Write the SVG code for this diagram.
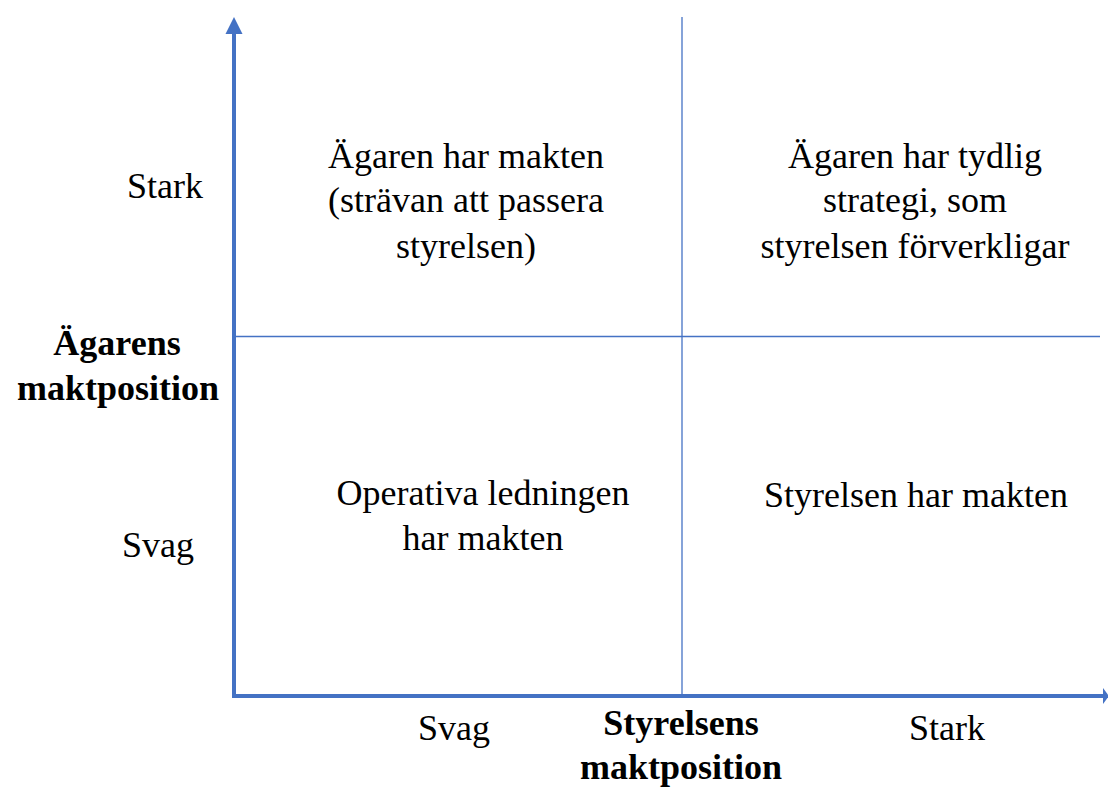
<svg xmlns="http://www.w3.org/2000/svg" width="1108" height="790" viewBox="0 0 1108 790">
<defs>
<style>
.t{font-family:"Liberation Serif","Times New Roman",serif;font-size:36px;fill:#000;}
.c{text-anchor:middle;}
.b{font-weight:bold;}
.ax{stroke:#4472C4;stroke-width:4;fill:none;}
.dv{stroke:#4472C4;stroke-width:1.3;fill:none;}
</style>
</defs>
<rect width="1108" height="790" fill="#fff"/>
<g id="connectors">
<line class="dv" x1="682" y1="17" x2="682" y2="696"/>
<line class="dv" x1="233" y1="336.5" x2="1100" y2="336.5"/>
<polyline class="ax" points="234,33 234,696 1103,696"/>
<polygon points="234,17 225.5,34 242.5,34" fill="#4472C4"/>
<polygon points="1109,696 1103,688 1103,704" fill="#4472C4"/>
</g>
<g id="q1">
<text class="t c" x="466" y="168">Ägaren har makten</text>
<text class="t c" x="466" y="212">(strävan att passera</text>
<text class="t c" x="466" y="258">styrelsen)</text>
</g>
<g id="q2">
<text class="t c" x="915" y="168">Ägaren har tydlig</text>
<text class="t c" x="915" y="212">strategi, som</text>
<text class="t c" x="915" y="258">styrelsen förverkligar</text>
</g>
<g id="q3">
<text class="t c" x="483" y="505">Operativa ledningen</text>
<text class="t c" x="483" y="550">har makten</text>
</g>
<g id="q4">
<text class="t c" x="916" y="507">Styrelsen har makten</text>
</g>
<g id="y-labels">
<text class="t c" x="165" y="198">Stark</text>
<text class="t c" x="158" y="557">Svag</text>
<text class="t b c" x="117" y="355">Ägarens</text>
<text class="t b c" x="118" y="400">maktposition</text>
</g>
<g id="x-labels">
<text class="t c" x="454" y="740">Svag</text>
<text class="t c" x="947" y="740">Stark</text>
<text class="t b c" x="681" y="735">Styrelsens</text>
<text class="t b c" x="681" y="779">maktposition</text>
</g>
</svg>
